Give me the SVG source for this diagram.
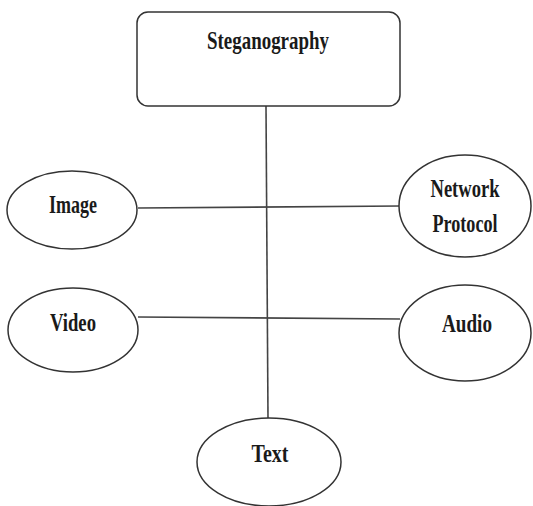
<svg xmlns="http://www.w3.org/2000/svg" width="533" height="506" viewBox="0 0 533 506">
<style>
.node{fill:#fff;stroke:#333;stroke-width:1.5}
.lbl{font-family:"Liberation Serif","Times New Roman",serif;font-weight:bold;font-size:26px;fill:#1a1a1a;text-anchor:middle}
.conn{stroke:#444;stroke-width:1.6;fill:none}
</style>
<rect width="533" height="506" fill="#fff"/>
<g id="connectors">
<line class="conn" x1="266" y1="106" x2="268" y2="418"/>
<line class="conn" x1="138" y1="208" x2="400" y2="206"/>
<line class="conn" x1="138" y1="317" x2="400" y2="319"/>
</g>
<g id="steganography">
<rect class="node" x="137" y="12" width="263" height="94" rx="11"/>
<text class="lbl" x="268" y="49" textLength="122" lengthAdjust="spacingAndGlyphs">Steganography</text>
</g>
<g id="image">
<ellipse class="node" cx="72" cy="210" rx="65" ry="39"/>
<text class="lbl" x="73" y="213" textLength="48" lengthAdjust="spacingAndGlyphs">Image</text>
</g>
<g id="network-protocol">
<ellipse class="node" cx="465" cy="206" rx="66" ry="51"/>
<text class="lbl" x="465" y="197" textLength="69" lengthAdjust="spacingAndGlyphs">Network</text>
<text class="lbl" x="465" y="232" textLength="65" lengthAdjust="spacingAndGlyphs">Protocol</text>
</g>
<g id="video">
<ellipse class="node" cx="73" cy="330" rx="65" ry="42"/>
<text class="lbl" x="73" y="331" textLength="46" lengthAdjust="spacingAndGlyphs">Video</text>
</g>
<g id="audio">
<ellipse class="node" cx="465" cy="333" rx="66" ry="48"/>
<text class="lbl" x="467" y="332" textLength="50" lengthAdjust="spacingAndGlyphs">Audio</text>
</g>
<g id="text">
<ellipse class="node" cx="269" cy="462" rx="72" ry="44"/>
<text class="lbl" x="270" y="462" textLength="37" lengthAdjust="spacingAndGlyphs">Text</text>
</g>
</svg>
